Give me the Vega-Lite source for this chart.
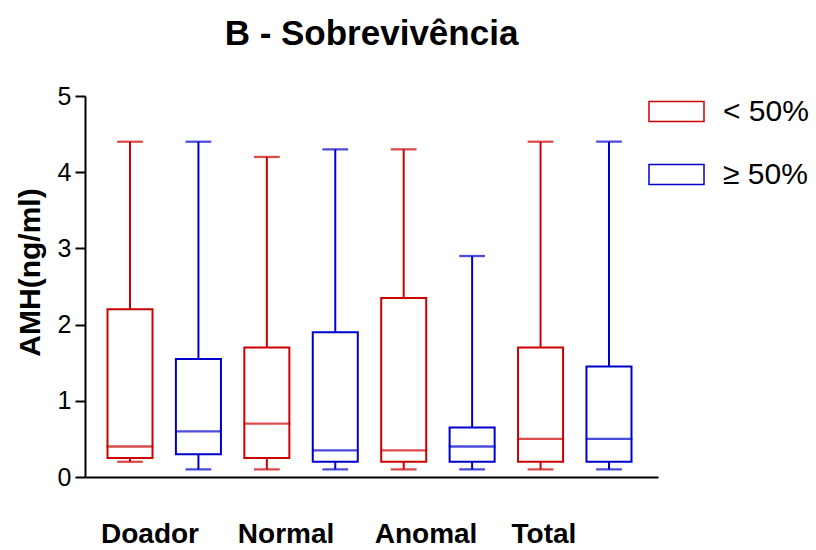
{
  "$schema": "https://vega.github.io/schema/vega-lite/v6.json",
  "width": 573,
  "height": 381,
  "autosize": {"type": "none"},
  "padding": {"left": 85, "top": 96, "right": 158, "bottom": 73},
  "background": "white",
  "title": {
    "text": "B - Sobrevivência",
    "fontSize": 35,
    "font": "Liberation Sans",
    "fontWeight": "bold",
    "color": "black",
    "anchor": "middle",
    "offset": 31
  },
  "config": {
    "view": {"stroke": null},
    "font": "Liberation Sans"
  },
  "data": {
    "values": [
      {"key": "Doador|<", "grupo": "< 50%", "min": 0.2, "q1": 0.25, "median": 0.4, "q3": 2.2, "max": 4.4},
      {"key": "Doador|≥", "grupo": "≥ 50%", "min": 0.1, "q1": 0.3, "median": 0.6, "q3": 1.55, "max": 4.4},
      {"key": "Normal|<", "grupo": "< 50%", "min": 0.1, "q1": 0.25, "median": 0.7, "q3": 1.7, "max": 4.2},
      {"key": "Normal|≥", "grupo": "≥ 50%", "min": 0.1, "q1": 0.2, "median": 0.35, "q3": 1.9, "max": 4.3},
      {"key": "Anomal|<", "grupo": "< 50%", "min": 0.1, "q1": 0.2, "median": 0.35, "q3": 2.35, "max": 4.3},
      {"key": "Anomal|≥", "grupo": "≥ 50%", "min": 0.1, "q1": 0.2, "median": 0.4, "q3": 0.65, "max": 2.9},
      {"key": "Total|<", "grupo": "< 50%", "min": 0.1, "q1": 0.2, "median": 0.5, "q3": 1.7, "max": 4.4},
      {"key": "Total|≥", "grupo": "≥ 50%", "min": 0.1, "q1": 0.2, "median": 0.5, "q3": 1.45, "max": 4.4}
    ]
  },
  "encoding": {
    "x": {
      "field": "key",
      "type": "nominal",
      "sort": null,
      "scale": {"paddingInner": 0.342, "paddingOuter": 0.358, "align": 0.459},
      "axis": {
        "title": null,
        "ticks": false,
        "domainColor": "black",
        "domainWidth": 2,
        "labelAngle": 0,
        "labelAlign": "left",
        "labelBaseline": "top",
        "labelOffset": -29,
        "labelPadding": 43,
        "labelFontSize": 28,
        "labelFontWeight": "bold",
        "labelColor": "black",
        "labelOverlap": false,
        "labelBound": false,
        "labelFlush": false,
        "labelExpr": "indexof(datum.value, '<') >= 0 ? split(datum.value, '|')[0] : ''"
      }
    },
    "color": {
      "field": "grupo",
      "type": "nominal",
      "scale": {"domain": ["< 50%", "≥ 50%"], "range": ["#CC0000", "#0000CC"]},
      "legend": {
        "title": null,
        "orient": "none",
        "legendX": 563,
        "legendY": -13,
        "padding": 0,
        "symbolType": "M-1,-0.36L1,-0.36L1,0.36L-1,0.36Z",
        "symbolSize": 3025,
        "symbolStrokeWidth": 1.5,
        "labelFontSize": 30,
        "labelColor": "black",
        "labelOffset": 18,
        "rowPadding": 19
      }
    }
  },
  "layer": [
    {
      "mark": {"type": "rule", "strokeWidth": 2},
      "encoding": {
        "y": {
          "field": "min",
          "type": "quantitative",
          "scale": {"domain": [0, 5], "nice": false, "zero": true},
          "axis": {
            "title": "AMH(ng/ml)",
            "values": [0, 1, 2, 3, 4, 5],
            "format": "d",
            "grid": false,
            "domainColor": "black",
            "domainWidth": 2,
            "tickColor": "black",
            "tickWidth": 2,
            "tickSize": 10,
            "labelFontSize": 25,
            "labelColor": "black",
            "labelPadding": 4,
            "titleFontSize": 30,
            "titleFontWeight": "bold",
            "titleColor": "black",
            "titlePadding": 12,
            "titleY": 176
          }
        },
        "y2": {"field": "q1"}
      }
    },
    {
      "mark": {"type": "rule", "strokeWidth": 2},
      "encoding": {
        "y": {"field": "q3", "type": "quantitative"},
        "y2": {"field": "max"}
      }
    },
    {
      "mark": {"type": "bar", "filled": false, "strokeWidth": 2},
      "encoding": {
        "y": {"field": "q1", "type": "quantitative"},
        "y2": {"field": "q3"}
      }
    },
    {
      "mark": {"type": "tick", "size": 45, "thickness": 0.5, "filled": false, "strokeWidth": 1.8},
      "encoding": {"y": {"field": "median", "type": "quantitative"}}
    },
    {
      "mark": {"type": "tick", "size": 24, "thickness": 0.5, "filled": false, "strokeWidth": 1.8},
      "encoding": {"y": {"field": "min", "type": "quantitative"}}
    },
    {
      "mark": {"type": "tick", "size": 24, "thickness": 0.5, "filled": false, "strokeWidth": 1.8},
      "encoding": {"y": {"field": "max", "type": "quantitative"}}
    }
  ]
}
